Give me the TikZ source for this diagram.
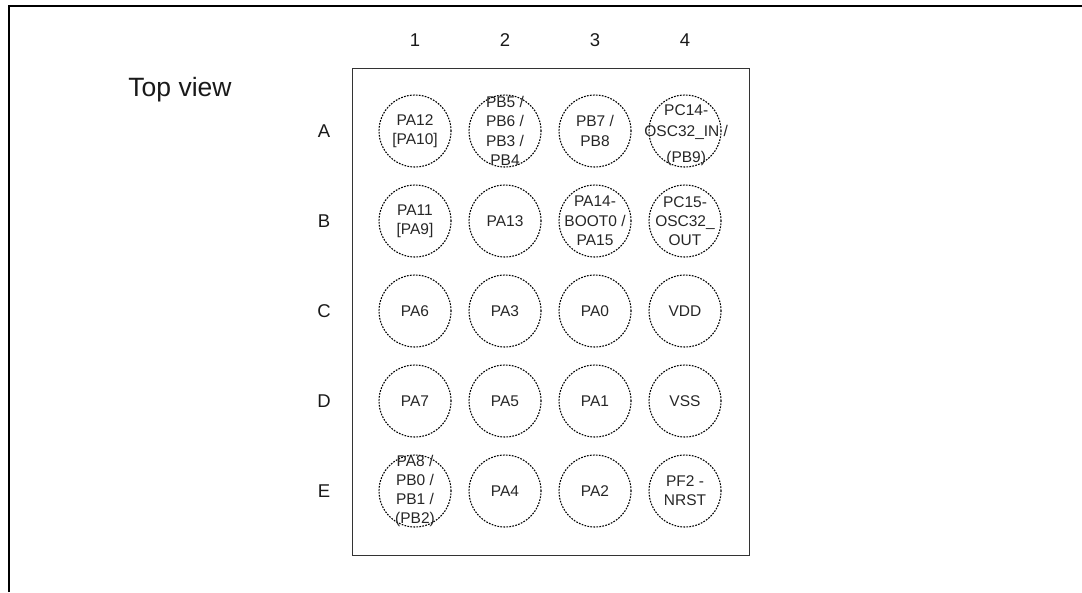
\documentclass[tikz,border=0pt]{standalone}
\usepackage{fontspec}
\setmainfont{Liberation Sans}
\tikzset{
  x=1pt,y=-1pt,
  balltext/.style={inner sep=0pt,align=center,text=black!85,font=\fontsize{15.5}{19.3}\selectfont},
  ballshape/.style={circle,draw=black,dash pattern=on 1.7pt off 1.3pt,line width=1.1pt,minimum size=72pt,inner sep=0pt,outer sep=0pt},
  ball/.style={ballshape,label={[balltext]center:#1}},
  idx/.style={inner sep=0pt,font=\fontsize{18.5}{21}\selectfont,text=black!90},
  frame/.style={draw=black,line width=2pt},
  chip/.style={draw=black!80,line width=1pt}
}
\begin{document}
\begin{tikzpicture}
\useasboundingbox (0,0) rectangle (1082,592);
\coordinate (fa) at (8.5,592);
\coordinate (fb) at (8.5,6);
\coordinate (fc) at (1082,6);
\draw[frame] (fa) -- (fb) -- (fc);
\node[chip,minimum width=397pt,minimum height=487pt,inner sep=0pt,anchor=north west] (chip) at (352,68) {};
\node[inner sep=0pt,font=\fontsize{26.5}{30}\selectfont,text=black!90] (top) at (180,89.5) {Top view};
\foreach \t/\x in {1/415,2/505,3/595,4/685} \node[idx] (c\t) at (\x,40) {\t};
\foreach \t/\y in {A/131,B/221,C/311,D/401,E/491} \node[idx] (r\t) at (324,\y) {\t};
\node[ball={PA12\\{[PA10]}}] (a1) at (415,131) {};
\node[ball={PB5 /\\PB6 /\\PB3 /\\PB4}] (a2) at (505,131) {};
\node[ball={PB7 /\\PB8}] (a3) at (595,131) {};
\node[ballshape,label={[balltext,yshift=-4.5pt,xshift=1.2pt]center:PC14-\\[1.7pt]OSC32\_IN /\\[6.7pt](PB9)}] (a4) at (685,131) {};
\node[ball={PA11\\{[PA9]}}] (b1) at (415,221) {};
\node[ball={PA13}] (b2) at (505,221) {};
\node[ball={PA14-\\BOOT0 /\\PA15}] (b3) at (595,221) {};
\node[ball={PC15-\\OSC32\_\\OUT}] (b4) at (685,221) {};
\node[ball={PA6}] (c1n) at (415,311) {};
\node[ball={PA3}] (c2n) at (505,311) {};
\node[ball={PA0}] (c3n) at (595,311) {};
\node[ball={VDD}] (c4n) at (685,311) {};
\node[ball={PA7}] (d1) at (415,401) {};
\node[ball={PA5}] (d2) at (505,401) {};
\node[ball={PA1}] (d3) at (595,401) {};
\node[ball={VSS}] (d4) at (685,401) {};
\node[ball={PA8 /\\PB0 /\\PB1 /\\(PB2)}] (e1) at (415,491) {};
\node[ball={PA4}] (e2) at (505,491) {};
\node[ball={PA2}] (e3) at (595,491) {};
\node[ball={PF2 -\\NRST}] (e4) at (685,491) {};
\end{tikzpicture}
\end{document}
